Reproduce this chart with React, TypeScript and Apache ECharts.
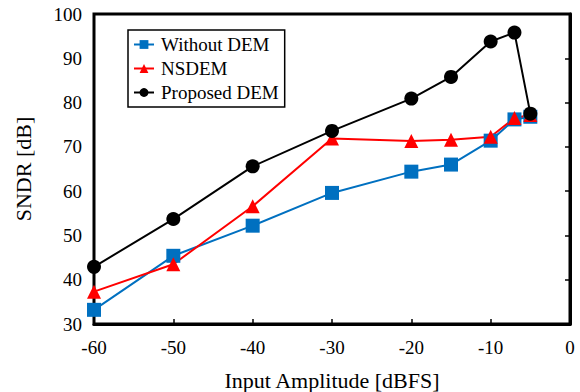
import React, { useEffect, useRef } from "react";
import * as echarts from "echarts";

const amplitudes = [-60, -50, -40, -30, -20, -15, -10, -7, -5];
const withoutDEM = [33.2, 45.4, 52.2, 59.6, 64.4, 66.0, 71.4, 76.2, 76.8];
const nsdem = [37.3, 43.5, 56.6, 71.9, 71.3, 71.6, 72.3, 76.5, 77.2];
const proposedDEM = [42.9, 53.7, 65.6, 73.6, 80.9, 85.8, 93.8, 95.8, 77.5];
const seriesNames = ["Without DEM", "NSDEM", "Proposed DEM"];

const FONT = "Liberation Serif";

function pairs(ys: number[]) {
  return amplitudes.map((x, i) => [x, ys[i]]);
}

export default function App() {
  const ref = useRef<HTMLDivElement>(null);
  useEffect(() => {
    if (!ref.current) return;
    const chart = echarts.init(ref.current, undefined, { renderer: "svg" });
    const mk = (name: string, ys: number[], color: string, symbol: string, size: number) => ({
      type: "line",
      name,
      data: pairs(ys),
      symbol,
      symbolSize: size,
      lineStyle: { color, width: 2 },
      itemStyle: { color },
      z: 3,
    });
    chart.setOption({
      animation: false,
      backgroundColor: "#fff",
      textStyle: { fontFamily: FONT },
      grid: {
        left: 94,
        right: 10,
        top: 14,
        bottom: 68,
        show: true,
        borderColor: "#000",
        borderWidth: 3,
        outerBoundsMode: "none",
        containLabel: false,
      },
      legend: {
        left: 128,
        top: 30,
        orient: "vertical",
        data: seriesNames,
        backgroundColor: "#fff",
        borderColor: "#000",
        borderWidth: 1.5,
        borderRadius: 0,
        padding: [5, 6, 5, 5],
        itemGap: 5,
        itemWidth: 20,
        itemHeight: 11,
        textStyle: { fontFamily: FONT, fontSize: 19, color: "#000", padding: [0, 0, 0, 2] },
      },
      xAxis: {
        type: "value",
        min: -60,
        max: 0,
        interval: 10,
        name: "Input Amplitude [dBFS]",
        nameLocation: "middle",
        nameGap: 45,
        nameTextStyle: { fontFamily: FONT, fontSize: 22, color: "#000" },
        axisLine: { show: true, lineStyle: { color: "#000", width: 3 } },
        axisTick: { show: true, inside: true, length: 5, lineStyle: { color: "#000", width: 1.5 } },
        axisLabel: { fontFamily: FONT, fontSize: 19, color: "#000", margin: 14 },
        splitLine: { show: false },
      },
      yAxis: {
        type: "value",
        min: 30,
        max: 100,
        interval: 10,
        name: "SNDR [dB]",
        nameLocation: "middle",
        nameGap: 60,
        nameTextStyle: { fontFamily: FONT, fontSize: 22, color: "#000" },
        axisLine: { show: true, lineStyle: { color: "#000", width: 3 } },
        axisTick: { show: true, inside: false, length: 5, lineStyle: { color: "#000", width: 1.5 } },
        axisLabel: { fontFamily: FONT, fontSize: 19, color: "#000", margin: 12 },
        splitLine: { show: false },
      },
      series: [
        mk(seriesNames[0], withoutDEM, "#0070C0", "rect", 14),
        mk(seriesNames[1], nsdem, "#FF0000", "triangle", 14),
        mk(seriesNames[2], proposedDEM, "#000000", "circle", 14),
      ],
    });
    return () => chart.dispose();
  }, []);
  return <div ref={ref} style={{ width: 580, height: 392, position: "absolute", left: 0, top: 0 }} />;
}
